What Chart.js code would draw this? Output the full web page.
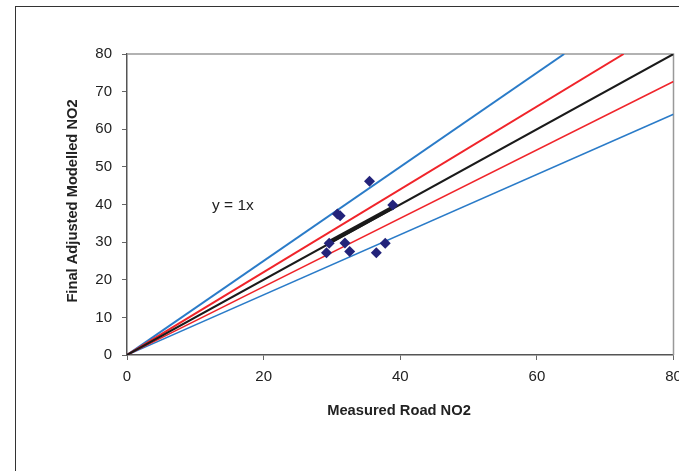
<!DOCTYPE html>
<html>
<head>
<meta charset="utf-8">
<script src="https://cdn.jsdelivr.net/npm/chart.js@4/dist/chart.umd.min.js"></script>
<style>
  html, body { margin: 0; padding: 0; background: #fff; overflow: hidden; }
  #frame { position: absolute; left: 15px; top: 6px; width: 700px; height: 500px; border: 1.5px solid #333; }
  #wrap { position: absolute; left: 0; top: 0; width: 679px; height: 471px; }
</style>
</head>
<body>
<div id="frame"></div>
<div id="wrap"><canvas id="chart" width="679" height="471"></canvas></div>
<script>
// Measured vs modelled NO2 points
const measured = [35.5, 30.8, 31.2, 38.9, 29.6, 31.9, 29.2, 32.6, 36.5, 37.8];
const modelled = [46.2, 37.5, 37.0, 39.9, 29.7, 29.8, 27.2, 27.5, 27.2, 29.7];

// Reference lines through the origin (end points)
const upper25 = [[0, 0], [64, 80]];
const upper10 = [[0, 0], [72.7, 80]];
const oneToOne = [[0, 0], [80, 80]];
const lower10 = [[0, 0], [80, 72.7]];
const lower20 = [[0, 0], [80, 64]];
const trend = [[29.2, 29.6], [38.9, 39.2]];

const xTicks = [0, 20, 40, 60, 80];
const yTicks = [0, 10, 20, 30, 40, 50, 60, 70, 80];
const annotation = { x: 15.5, y: 39.6, text: 'y = 1x' };

const FONT = "'Liberation Sans', Arial, sans-serif";
const toXY = arr => arr.map(p => ({ x: p[0], y: p[1] }));

function lineSet(pts, color, width) {
  return { type: 'line', data: toXY(pts), borderColor: color, borderWidth: width,
           pointRadius: 0, fill: false, tension: 0 };
}

const extras = {
  id: 'extras',
  beforeDatasetsDraw(chart) {
    const { ctx, chartArea: a } = chart;
    ctx.save();
    ctx.strokeStyle = '#999';
    ctx.lineWidth = 1.5;
    ctx.beginPath();
    ctx.moveTo(a.left, a.top);
    ctx.lineTo(a.right, a.top);
    ctx.lineTo(a.right, a.bottom);
    ctx.stroke();
    ctx.restore();
  },
  afterDraw(chart) {
    const { ctx, scales } = chart;
    ctx.save();
    ctx.fillStyle = '#222';
    ctx.font = '15.5px ' + FONT;
    ctx.textAlign = 'center';
    ctx.textBaseline = 'middle';
    ctx.fillText(annotation.text, scales.x.getPixelForValue(annotation.x), scales.y.getPixelForValue(annotation.y));
    ctx.font = 'bold 14.7px ' + FONT;
    ctx.fillText('Measured Road NO2', 399, 411);
    ctx.translate(73, 201);
    ctx.rotate(-Math.PI / 2);
    ctx.fillText('Final Adjusted Modelled NO2', 0, 0);
    ctx.restore();
  }
};

function noPad(scale) {
  scale.paddingLeft = 0; scale.paddingRight = 0; scale.paddingTop = 0; scale.paddingBottom = 0;
}

new Chart(document.getElementById('chart'), {
  type: 'scatter',
  data: {
    datasets: [
      { data: measured.map((m, i) => ({ x: m, y: modelled[i] })), pointStyle: 'rectRot',
        pointRadius: 5.5, pointBackgroundColor: '#23237a', pointBorderColor: '#23237a',
        pointBorderWidth: 0, showLine: false },
      lineSet(trend, '#1a1a1a', 4),
      lineSet(oneToOne, '#1a1a1a', 2),
      lineSet(upper10, '#f0242a', 2),
      lineSet(lower10, '#f0242a', 1.5),
      lineSet(upper25, '#2a7bc8', 2),
      lineSet(lower20, '#2a7bc8', 1.5)
    ]
  },
  options: {
    responsive: false,
    animation: false,
    layout: { padding: { top: 54, right: 4, left: 0, bottom: 0 } },
    plugins: { legend: { display: false }, tooltip: { enabled: false } },
    scales: {
      x: {
        type: 'linear', min: 0, max: 80,
        afterBuildTicks: s => { s.ticks = xTicks.map(v => ({ value: v })); },
        afterFit: s => { s.height = 116; noPad(s); },
        grid: { drawOnChartArea: false, drawTicks: true, tickLength: 5, tickColor: '#666' },
        border: { color: '#555', width: 1.5 },
        ticks: { padding: 8, color: '#222', font: { family: FONT, size: 15 } }
      },
      y: {
        type: 'linear', min: 0, max: 80,
        afterBuildTicks: s => { s.ticks = yTicks.map(v => ({ value: v })); },
        afterFit: s => { s.width = 127; noPad(s); },
        grid: { drawOnChartArea: false, drawTicks: true, tickLength: 5, tickColor: '#666' },
        border: { color: '#555', width: 1.5 },
        ticks: { padding: 10, color: '#222', font: { family: FONT, size: 15 } }
      }
    }
  },
  plugins: [extras]
});
</script>
</body>
</html>
